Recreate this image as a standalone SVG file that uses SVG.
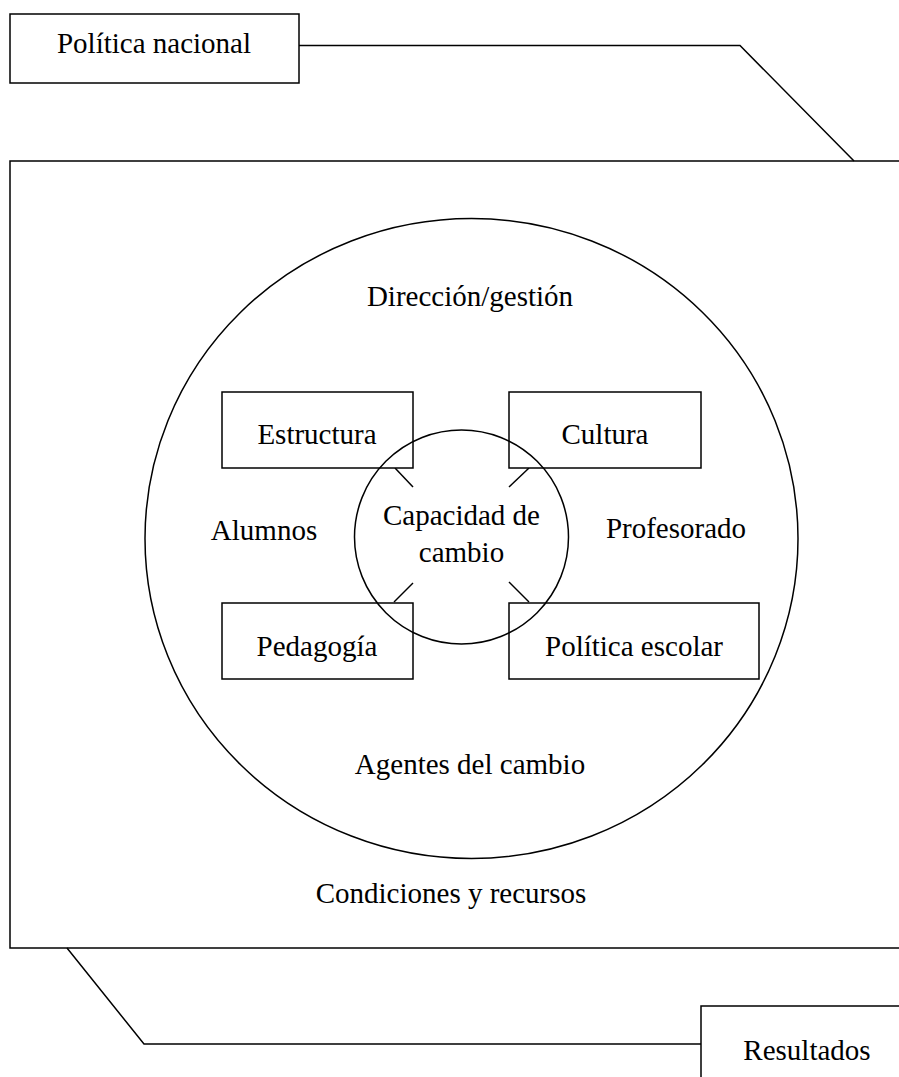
<svg xmlns="http://www.w3.org/2000/svg" width="899" height="1077" viewBox="0 0 899 1077">
<style>
.s{fill:none;stroke:#000;stroke-width:1.5}
.b{fill:#fff;stroke:#000;stroke-width:1.5}
text{font-family:"Liberation Serif","Times New Roman",serif;font-size:29px;fill:#000;text-anchor:middle}
</style>
<rect width="899" height="1077" fill="#fff"/>
<g id="connectors">
<polyline class="s" points="299,45.5 740,45.5 854,161"/>
<polyline class="s" points="67,948 144,1044 701,1044"/>
<line class="s" x1="395" y1="468" x2="413" y2="487"/>
<line class="s" x1="413" y1="583" x2="394" y2="602"/>
<line class="s" x1="509" y1="487" x2="529" y2="468"/>
<line class="s" x1="509" y1="582" x2="529" y2="602"/>
</g>
<g id="politica-nacional">
<rect class="b" x="10" y="14" width="289" height="69"/>
<text x="154" y="53">Política nacional</text>
</g>
<g id="escuela">
<rect class="s" x="10" y="161" width="900" height="787"/>
<text x="451" y="903">Condiciones y recursos</text>
</g>
<g id="agentes">
<ellipse class="s" cx="471.5" cy="538.5" rx="326.5" ry="320"/>
<text x="470" y="306">Dirección/gestión</text>
<text x="264" y="540">Alumnos</text>
<text x="676" y="538">Profesorado</text>
<text x="470" y="774">Agentes del cambio</text>
</g>
<g id="estructura">
<rect class="b" x="222" y="392" width="191" height="76"/>
<text x="317" y="444">Estructura</text>
</g>
<g id="cultura">
<rect class="b" x="509" y="392" width="192" height="76"/>
<text x="605" y="444">Cultura</text>
</g>
<g id="pedagogia">
<rect class="b" x="222" y="603" width="191" height="76"/>
<text x="317" y="656">Pedagogía</text>
</g>
<g id="politica-escolar">
<rect class="b" x="509" y="603" width="250" height="76"/>
<text x="634" y="656">Política escolar</text>
</g>
<g id="capacidad">
<circle class="s" cx="461.5" cy="537" r="107"/>
<text x="461.5" y="525">Capacidad de</text>
<text x="461.5" y="562">cambio</text>
</g>
<g id="resultados">
<rect class="b" x="701" y="1006" width="210" height="80"/>
<text x="807" y="1060">Resultados</text>
</g>
</svg>
